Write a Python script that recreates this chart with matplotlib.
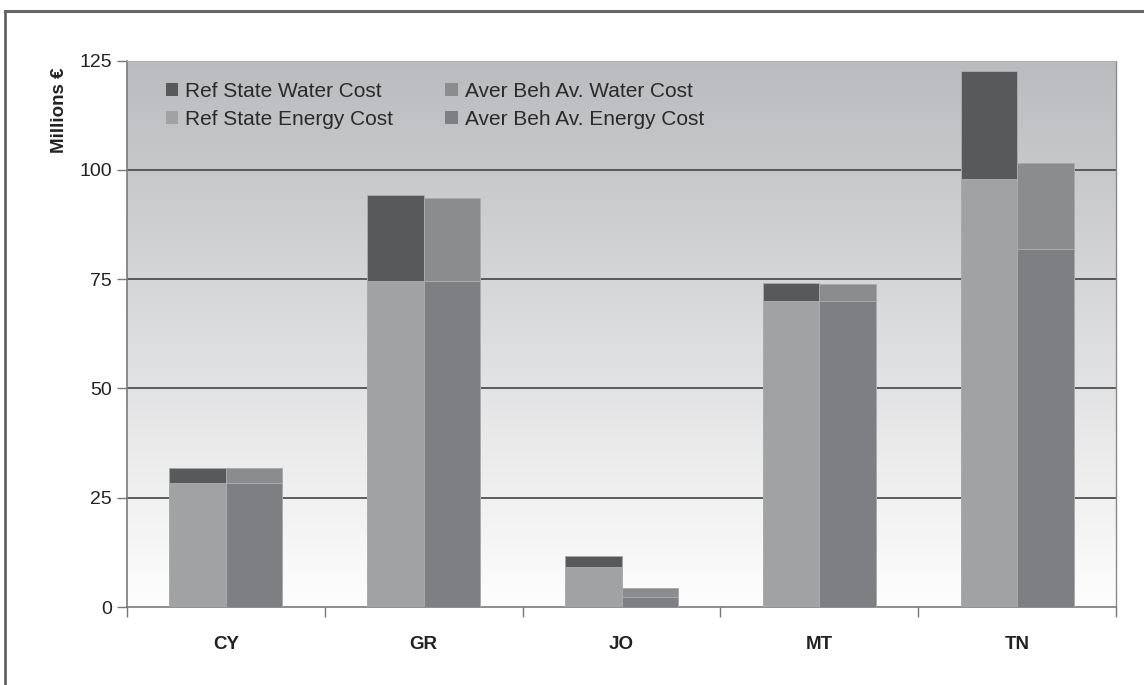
import numpy as np
import matplotlib
matplotlib.use("Agg")
import matplotlib.pyplot as plt
from matplotlib.lines import Line2D
from matplotlib.patches import Patch

plt.rcParams['font.family'] = ['Liberation Sans', 'DejaVu Sans']

countries = ["CY", "GR", "JO", "MT", "TN"]
ref_energy = [28.3, 74.5, 9.2, 70.1, 98.0]
ref_water = [3.6, 19.7, 2.5, 3.9, 24.5]
aver_energy = [28.3, 74.5, 2.2, 69.9, 81.8]
aver_water = [3.6, 19.0, 2.2, 3.9, 19.8]
yticks = [0, 25, 50, 75, 100, 125]
legend_labels = ["Ref State Water Cost", "Ref State Energy Cost",
                 "Aver Beh Av. Water Cost", "Aver Beh Av. Energy Cost"]

c_ref_water = "#58595b"
c_ref_energy = "#a1a2a4"
c_aver_water = "#8b8c8e"
c_aver_energy = "#7e7f82"

fig = plt.figure(figsize=(11.44, 6.85), dpi=100)
ax = fig.add_axes([127 / 1144, 1 - 607 / 685, (1116 - 127) / 1144, (607 - 60.5) / 685])

x = np.arange(len(countries))
w = 0.286
edge = dict(edgecolor="#a9aaac", linewidth=0.7)

ax.bar(x - w / 2, ref_energy, w, color=c_ref_energy, zorder=3, **edge)
ax.bar(x - w / 2, ref_water, w, bottom=ref_energy, color=c_ref_water, zorder=3, **edge)
ax.bar(x + w / 2, aver_energy, w, color=c_aver_energy, zorder=3, **edge)
ax.bar(x + w / 2, aver_water, w, bottom=aver_energy, color=c_aver_water, zorder=3, **edge)

ax.set_xlim(-0.5, len(countries) - 0.5)
ax.set_ylim(0, 125)

# vertical gradient behind the plot area
top = np.array([186, 187, 190]) / 255
bot = np.array([254, 254, 254]) / 255
t = np.linspace(0, 1, 256)[:, None]
grad = (top[None, :] * (1 - t) + bot[None, :] * t)[:, None, :]
ax.imshow(grad, extent=[-0.5, len(countries) - 0.5, 0, 125], aspect="auto",
          origin="upper", zorder=0, interpolation="bilinear")

for v in yticks[1:-1]:
    ax.axhline(v, color="#4f5052", linewidth=1.3, zorder=1)

ax.set_yticks(yticks)
ax.set_yticklabels([str(v) for v in yticks], fontsize=14, color="#222222")
ax.set_xticks(x)
ax.set_xticklabels(countries, fontsize=13.5, fontweight="bold", color="#222222")
ax.tick_params(axis="x", length=0, pad=21)
ax.set_xticks(np.arange(len(countries) + 1) - 0.5, minor=True)
ax.tick_params(axis="x", which="minor", length=7, color="#777777", width=1)
ax.tick_params(axis="y", length=7, color="#777777", width=1, pad=4)

for side in ("left", "bottom"):
    ax.spines[side].set_color("#7a7a7a")
    ax.spines[side].set_linewidth(1.2)
ax.spines["right"].set_color("#8a8a8a")
ax.spines["right"].set_linewidth(1.0)
ax.spines["top"].set_color("#b0b0b0")
ax.spines["top"].set_linewidth(0.8)

fig.text(59 / 1144, 1 - 110 / 685, "Millions €", rotation=90, ha="center", va="center",
         fontsize=13.5, fontweight="bold", color="#222222")

handles = [Patch(facecolor=c, edgecolor="none") for c in
           (c_ref_water, c_ref_energy, c_aver_water, c_aver_energy)]
ax.legend(handles, legend_labels, ncol=2, loc="upper left", frameon=False,
          bbox_to_anchor=(0.020, 0.995), fontsize=15, handlelength=0.6,
          handleheight=0.6, handletextpad=0.35, columnspacing=2.5,
          labelspacing=0.42, labelcolor="#2a2a2a")

# outer frame of the figure
fig.add_artist(Line2D([5 / 1144, 5 / 1144], [0, 1 - 11 / 685], color="#555555",
                      linewidth=1.8, transform=fig.transFigure))
fig.add_artist(Line2D([5 / 1144, 1], [1 - 11 / 685, 1 - 11 / 685], color="#666666",
                      linewidth=2.2, transform=fig.transFigure))

fig.savefig("out.png", dpi=100)
